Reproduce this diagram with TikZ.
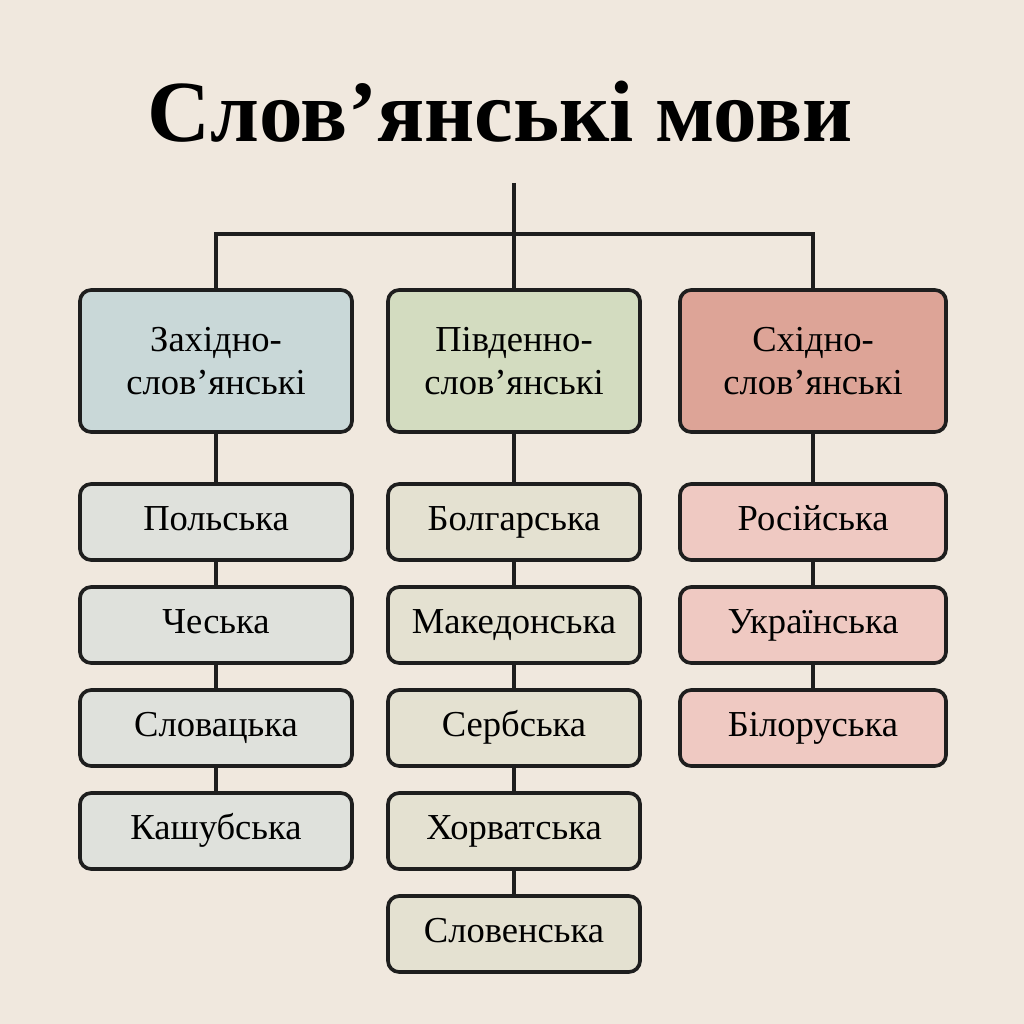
\documentclass[tikz,border=0pt]{standalone}
\usepackage{fontspec}
\setmainfont{Liberation Serif}
\usetikzlibrary{positioning}
\definecolor{paper}{HTML}{F0E8DE}
\definecolor{ink}{HTML}{1E1E1E}
\definecolor{westhead}{HTML}{C9D8D8}
\definecolor{southhead}{HTML}{D3DCC0}
\definecolor{easthead}{HTML}{DDA497}
\definecolor{westlang}{HTML}{DFE1DC}
\definecolor{southlang}{HTML}{E4E1D1}
\definecolor{eastlang}{HTML}{EFC9C2}
\tikzset{
	group/.style={draw=ink,line width=2.6pt,rounded corners=8pt,minimum height=3.55cm,align=center,font=\fontsize{26}{31}\selectfont},
	lang/.style={draw=ink,line width=2.6pt,rounded corners=8pt,minimum height=1.9cm,text height=0.62cm,text depth=0.2cm,font=\fontsize{26}{31}\selectfont},
	link/.style={draw=ink,line width=2.6pt}
}
\begin{document}
\begin{tikzpicture}[x=0.025cm,y=-0.025cm]
\fill[paper] (0,0) rectangle (1024,1024);
\useasboundingbox (0,0) rectangle (1024,1024);

\node[font=\fontsize{62}{68}\selectfont\bfseries] (title) at (500,112) {Слов’янські мови};

\node[group,fill=westhead,minimum width=6.8cm] (west) at (216,361) {Західно-\\слов’янські};
\node[group,fill=southhead,minimum width=6.3cm] (south) at (514,361) {Південно-\\слов’янські};
\node[group,fill=easthead,minimum width=6.65cm] (east) at (813,361) {Східно-\\слов’янські};

\coordinate (top) at (514,183);
\coordinate (hub) at (514,234);
\draw[link] (top) -- (hub);
\draw[link] (west.north) |- (hub) -| (east.north);
\draw[link] (hub) -- (south.north);

\foreach \name [count=\k] in {Польська,Чеська,Словацька,Кашубська}
	\node[lang,fill=westlang,minimum width=6.8cm] (w\k) at (216,419+103*\k) {\name};
\foreach \name [count=\k] in {Болгарська,Македонська,Сербська,Хорватська,Словенська}
	\node[lang,fill=southlang,minimum width=6.3cm] (s\k) at (514,419+103*\k) {\name};
\foreach \name [count=\k] in {Російська,Українська,Білоруська}
	\node[lang,fill=eastlang,minimum width=6.65cm] (e\k) at (813,419+103*\k) {\name};

\draw[link] (west) -- (w1) (w1) -- (w2) (w2) -- (w3) (w3) -- (w4);
\draw[link] (south) -- (s1) (s1) -- (s2) (s2) -- (s3) (s3) -- (s4) (s4) -- (s5);
\draw[link] (east) -- (e1) (e1) -- (e2) (e2) -- (e3);
\end{tikzpicture}
\end{document}
